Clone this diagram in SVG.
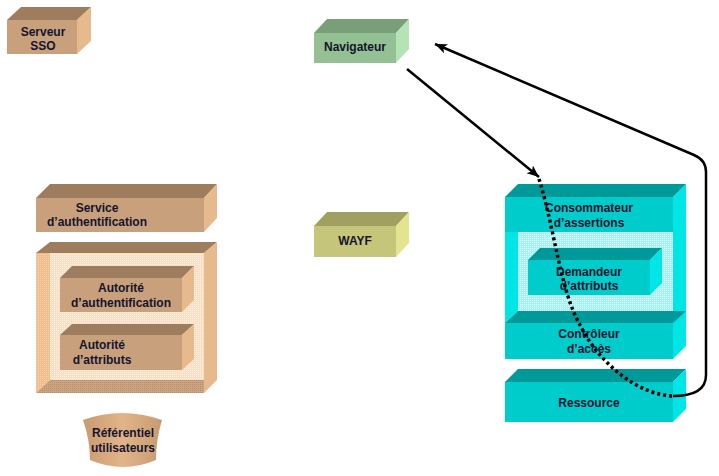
<svg xmlns="http://www.w3.org/2000/svg" width="719" height="476" viewBox="0 0 719 476">
<defs>
<style>
text{font-family:"Liberation Sans",Arial,sans-serif;font-size:12px;font-weight:bold;fill:#14142e;text-anchor:middle}
.bf{fill:#C8A07C}.bt{fill:#9E7C5E}.bs{fill:#E6BA8C}
.gf{fill:#93C193}.gt{fill:#789F78}.gs{fill:#B6E3B6}
.yf{fill:#C6C67A}.yt{fill:#A0A060}.ys{fill:#E4E490}
.cf{fill:#00CCCC}.ct{fill:#009999}.cs{fill:#00E5E5}
.conn{fill:none;stroke:#000;stroke-width:2.5}
.dot{fill:none;stroke:#000;stroke-width:3.5;stroke-dasharray:3 3}
</style>
<pattern id="peach" width="2" height="2" patternUnits="userSpaceOnUse"><rect width="2" height="2" fill="#FBDFC4"/><rect width="1" height="1" fill="#FFF0E2"/></pattern>
<pattern id="orange" width="2" height="2" patternUnits="userSpaceOnUse"><rect width="2" height="2" fill="#F0BE8C"/><rect width="1" height="1" fill="#F8D2AA"/></pattern>
<pattern id="floor" width="2" height="2" patternUnits="userSpaceOnUse"><rect width="2" height="2" fill="#CCA482"/><rect width="1" height="1" fill="#B58C6C"/></pattern>
<pattern id="cyan" width="2" height="2" patternUnits="userSpaceOnUse"><rect width="2" height="2" fill="#A4F2F2"/><rect width="1" height="1" fill="#E4FFFF"/></pattern>
<linearGradient id="bowl" x1="0" y1="0" x2="1" y2="0"><stop offset="0" stop-color="#C89A70"/><stop offset="0.5" stop-color="#E2B48A"/><stop offset="1" stop-color="#C89A70"/></linearGradient>
<marker id="ah" markerUnits="userSpaceOnUse" markerWidth="14" markerHeight="12" refX="12" refY="5" orient="auto"><path d="M0,0 L12,5 L0,10 L3,5 Z" fill="#000"/></marker>
</defs>

<g id="serveur-sso">
<rect class="bf" x="7" y="20" width="70" height="34"/>
<polygon class="bt" points="7,20 21,7 91,7 77,20"/>
<polygon class="bs" points="77,20 91,7 91,41 77,54"/>
<text x="43" y="36">Serveur</text><text x="43" y="50">SSO</text>
</g>

<g id="navigateur">
<rect class="gf" x="314" y="33" width="82" height="30"/>
<polygon class="gt" points="314,33 327,19 409,19 396,33"/>
<polygon class="gs" points="396,33 409,19 409,49 396,63"/>
<text x="355" y="51">Navigateur</text>
</g>

<g id="wayf">
<rect class="yf" x="314" y="226" width="82" height="31"/>
<polygon class="yt" points="314,226 327,212 409,212 396,226"/>
<polygon class="ys" points="396,226 409,212 409,243 396,257"/>
<text x="355" y="245">WAYF</text>
</g>

<g id="service-authentification">
<rect class="bf" x="36" y="198" width="168" height="34"/>
<polygon class="bt" points="36,198 50,184 217,184 204,198"/>
<polygon class="bs" points="204,198 217,184 217,218 204,232"/>
<text x="97" y="212">Service</text><text x="97" y="226">d’authentification</text>
</g>

<g id="conteneur-autorites">
<rect x="36" y="253" width="168" height="140" fill="url(#peach)"/>
<polygon points="36,253 50,253 50,380 36,393" fill="url(#orange)"/>
<polygon points="36,393 50,380 204,380 204,393" fill="url(#floor)"/>
<polygon class="bt" points="36,253 50,242 217,242 204,253"/>
<polygon class="bs" points="204,253 217,242 217,380 204,393"/>
</g>

<g id="autorite-authentification">
<rect class="bf" x="60" y="278" width="122" height="34"/>
<polygon class="bt" points="60,278 72,266 194,266 182,278"/>
<polygon class="bs" points="182,278 194,266 194,300 182,312"/>
<text x="121" y="292">Autorité</text><text x="121" y="307">d’authentification</text>
</g>

<g id="autorite-attributs">
<rect class="bf" x="60" y="335" width="122" height="35"/>
<polygon class="bt" points="60,335 72,324 194,324 182,335"/>
<polygon class="bs" points="182,335 194,324 194,359 182,370"/>
<text x="102" y="349">Autorité</text><text x="102" y="364">d’attributs</text>
</g>

<g id="referentiel-utilisateurs">
<path d="M83,420 Q122,406 162,420 Q156,440 156,460 Q123,474 90,460 Q90,440 83,420 Z" fill="url(#bowl)"/>
<text x="123" y="437">Référentiel</text><text x="123" y="452">utilisateurs</text>
</g>

<g id="conteneur-fournisseur">
<rect x="518" y="232" width="155" height="80" fill="url(#cyan)"/>
<polygon class="cs" points="505,232 518,232 518,311 505,323"/>
<polygon class="cs" points="673,197 686,184 686,346 673,359"/>
</g>

<g id="consommateur-assertions">
<rect class="cf" x="505" y="197" width="168" height="35"/>
<polygon class="ct" points="505,197 518,184 686,184 673,197"/>
<text x="589" y="212">Consommateur</text><text x="589" y="227">d’assertions</text>
</g>

<g id="demandeur-attributs">
<rect class="cf" x="528" y="260" width="122" height="35"/>
<polygon class="ct" points="528,260 540,248 662,248 650,260"/>
<polygon class="cs" points="650,260 662,248 662,283 650,295"/>
<text x="589" y="276">Demandeur</text><text x="589" y="290">d’attributs</text>
</g>

<g id="controleur-acces">
<rect class="cf" x="505" y="323" width="168" height="36"/>
<polygon class="ct" points="505,323 518,311 686,311 673,323"/>
<text x="589" y="338">Contrôleur</text><text x="589" y="353">d’accès</text>
</g>

<g id="ressource">
<rect class="cf" x="505" y="382" width="168" height="40"/>
<polygon class="ct" points="505,382 518,369 686,369 673,382"/>
<polygon class="cs" points="673,382 686,369 686,409 673,422"/>
<text x="589" y="407">Ressource</text>
</g>

<g id="connecteurs">
<path class="conn" d="M407,69 L539,177" marker-end="url(#ah)"/>
<path class="conn" d="M673,396 Q706,396 706,375 L706,172 Q706,160 694,155 L435,44" marker-end="url(#ah)"/>
<path class="dot" d="M539,179 C555,230 560,290 580,325 C600,365 640,396 675,396"/>
</g>
</svg>
